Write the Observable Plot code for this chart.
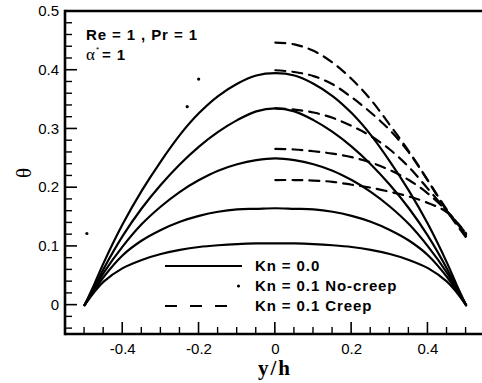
<!DOCTYPE html>
<html><head><meta charset="utf-8">
<script src="https://cdn.jsdelivr.net/npm/d3@7"></script>
<script src="https://cdn.jsdelivr.net/npm/@observablehq/plot@0.6"></script>
<style>body{margin:0;background:#fff}</style>
</head><body><div id="chart"></div><pre id="dbg" style="position:absolute;left:0;top:0;margin:0"></pre>
<script>
// y/h positions for the Kn = 0.0 profiles
const yPos = [-0.5,-0.475,-0.45,-0.4,-0.35,-0.3,-0.25,-0.2,-0.15,-0.1,-0.05,0,0.05,0.1,0.15,0.2,0.25,0.3,0.35,0.4,0.45,0.475,0.5];
// Kn = 0.0 temperature profiles (solid)
const kn0_a = [0,0.035,0.072,0.138,0.195,0.245,0.29,0.327,0.356,0.377,0.391,0.395,0.391,0.377,0.356,0.327,0.29,0.245,0.195,0.138,0.072,0.035,0];
const kn0_b = [0,0.03,0.062,0.118,0.165,0.205,0.24,0.27,0.295,0.315,0.33,0.335,0.33,0.315,0.295,0.27,0.24,0.205,0.165,0.118,0.062,0.03,0];
const kn0_c = [0,0.028,0.055,0.1,0.138,0.168,0.193,0.213,0.229,0.24,0.247,0.25,0.247,0.24,0.229,0.213,0.193,0.168,0.138,0.1,0.055,0.028,0];
const kn0_d = [0,0.025,0.048,0.085,0.11,0.128,0.142,0.152,0.159,0.163,0.164,0.165,0.164,0.163,0.159,0.152,0.142,0.128,0.11,0.085,0.048,0.025,0];
const kn0_e = [0,0.022,0.04,0.063,0.077,0.087,0.094,0.099,0.102,0.104,0.105,0.105,0.105,0.104,0.102,0.099,0.094,0.087,0.077,0.063,0.04,0.022,0];

// Kn = 0.1 Creep profiles (dashed), y/h from 0 to 0.5
const creepPos = [0,0.05,0.1,0.15,0.2,0.25,0.3,0.35,0.4,0.45,0.5];
const creep_a = [0.447,0.444,0.433,0.413,0.385,0.35,0.307,0.262,0.212,0.16,0.115];
const creep_b = [0.40,0.397,0.39,0.376,0.354,0.328,0.298,0.26,0.212,0.162,0.118];
const creep_c = [0.335,0.333,0.328,0.319,0.305,0.288,0.265,0.235,0.198,0.16,0.12];
const creep_d = [0.266,0.265,0.262,0.258,0.252,0.243,0.23,0.213,0.19,0.16,0.122];
const creep_e = [0.213,0.213,0.212,0.21,0.205,0.2,0.193,0.185,0.174,0.158,0.122];

// Kn = 0.1 No-creep points
const noCreepX = [-0.494,-0.231,-0.201];
const noCreepY = [0.122,0.338,0.385];

// ticks
const xMajor = [-0.4,-0.2,0,0.2,0.4];
const xMinor = [-0.5,-0.45,-0.35,-0.3,-0.25,-0.15,-0.1,-0.05,0.05,0.1,0.15,0.25,0.3,0.35,0.45,0.5];
const yMajor = [0,0.1,0.2,0.3,0.4,0.5];
const yMinor = [-0.04,-0.02,0.02,0.04,0.06,0.08,0.12,0.14,0.16,0.18,0.22,0.24,0.26,0.28,0.32,0.34,0.36,0.38,0.42,0.44,0.46,0.48];

const solid = [];
[kn0_a,kn0_b,kn0_c,kn0_d,kn0_e].forEach((arr,k)=>arr.forEach((v,i)=>solid.push({s:k,x:yPos[i],y:v})));
const dashed = [];
[creep_a,creep_b,creep_c,creep_d,creep_e].forEach((arr,k)=>arr.forEach((v,i)=>dashed.push({s:k,x:creepPos[i],y:v})));
const dots = noCreepX.map((x,i)=>({x, y:noCreepY[i]}));

const W = 482, H = 383, mL = 65, mR = 0, mT = 11, mB = 49;
const fw = W - mL - mR, fh = H - mT - mB;
const xDom = [-0.55, 0.543], yDom = [-0.05, 0.5];
const sans = "Arial, 'Liberation Sans', Helvetica, sans-serif";
const serif = "'Times New Roman', 'Liberation Serif', serif";

const svg = Plot.plot({
  width: W, height: H,
  marginLeft: mL, marginRight: mR, marginTop: mT, marginBottom: mB,
  style: {fontFamily: "Arial", fontSize: "15px", background: "white"},
  x: {domain: xDom},
  y: {domain: yDom},
  marks: [
    Plot.line(solid, {x:"x", y:"y", z:"s", stroke:"black", strokeWidth:2.2, curve:"catmull-rom"}),
    Plot.line(dashed, {x:"x", y:"y", z:"s", stroke:"black", strokeWidth:2.2, strokeDasharray:"10,7", curve:"catmull-rom"}),
    Plot.dot(dots, {x:"x", y:"y", r:1.6, fill:"black"}),
    Plot.axisX(xMajor, {tickSize:0, tickPadding:9, tickFormat:d=>String(d), label:null}),
    Plot.axisY(yMajor, {tickSize:0, tickPadding:6.5, tickFormat:d=>String(d), label:null})
  ]
});
document.getElementById("chart").appendChild(svg);

const g = d3.select(svg).append("g").attr("fill","black").attr("text-anchor","start");
// annotation
g.append("text").attr("x",86).attr("y",39.5).attr("font-family",sans).attr("font-weight","bold")
  .attr("font-size",15).attr("letter-spacing","0.9px").text("Re = 1 , Pr = 1");
const t2 = g.append("text").attr("x",86).attr("y",60).attr("font-size",15);
t2.append("tspan").attr("font-family",serif).attr("font-size",17).text("α");
t2.append("tspan").attr("font-family",sans).attr("font-size",8).attr("dy",-8).attr("dx",1).text("*");
t2.append("tspan").attr("font-family",sans).attr("font-weight","bold").attr("dy",8).attr("dx",3)
  .attr("letter-spacing","0.9px").text("= 1");

// legend
const leg = g.append("g");
leg.append("line").attr("x1",165).attr("x2",242).attr("y1",266).attr("y2",266)
  .attr("stroke","black").attr("stroke-width",2.2);
leg.append("circle").attr("cx",238.5).attr("cy",286).attr("r",1.6);
leg.append("line").attr("x1",165).attr("x2",228).attr("y1",306).attr("y2",306)
  .attr("stroke","black").attr("stroke-width",2.2).attr("stroke-dasharray","12,13");
const legTexts = ["Kn = 0.0","Kn = 0.1 No-creep","Kn = 0.1 Creep"];
legTexts.forEach((t,i)=>{
  leg.append("text").attr("x",255).attr("y",266+20*i).attr("dy","0.36em")
    .attr("font-family",sans).attr("font-weight","bold").attr("font-size",15)
    .attr("letter-spacing","0.9px").text(t);
});

// axis titles
g.append("text").attr("x",275).attr("y",375).attr("text-anchor","middle")
  .attr("font-family",serif).attr("font-weight","bold").attr("font-size",21)
  .attr("letter-spacing","2px").text("y/h");
g.append("text").attr("transform","translate(31,173) rotate(-90)").attr("text-anchor","middle")
  .attr("font-family",serif).attr("font-size",21).text("θ");

// frame and inward ticks, positioned with the plot's own scales, drawn on top
const sxp = svg.scale("x"), syp = svg.scale("y");
const fx = d3.scaleLinear().domain(xDom).range([mL, W - mR]);
const fy = d3.scaleLinear().domain(yDom).range([H - mB, mT]);
const X = v => { const r = sxp && sxp.apply ? sxp.apply(v) : NaN; return Number.isFinite(r) ? r : fx(v); };
const Y = v => { const r = syp && syp.apply ? syp.apply(v) : NaN; return Number.isFinite(r) ? r : fy(v); };
const frame = d3.select(svg).append("g");
const yb = Y(yDom[0]), yt = Y(yDom[1]), xl = X(xDom[0]);
const seg = (x1,y1,x2,y2,w) => frame.append("line").attr("x1",x1).attr("y1",y1).attr("x2",x2).attr("y2",y2)
  .attr("stroke","#000").attr("stroke-width",w).attr("fill","none");
xMinor.forEach(v=>seg(X(v),yb,X(v),yb-7,1.4));
xMajor.forEach(v=>seg(X(v),yb,X(v),yb-12,1.6));
yMinor.forEach(v=>seg(xl,Y(v),xl+7,Y(v),1.4));
yMajor.forEach(v=>seg(xl,Y(v),xl+12,Y(v),1.6));
seg(xl,yt,W,yt,2.6);
seg(xl,yb,W,yb,2.6);
seg(xl,yt-1.3,xl,yb+1.3,2.6);
</script></body></html>
